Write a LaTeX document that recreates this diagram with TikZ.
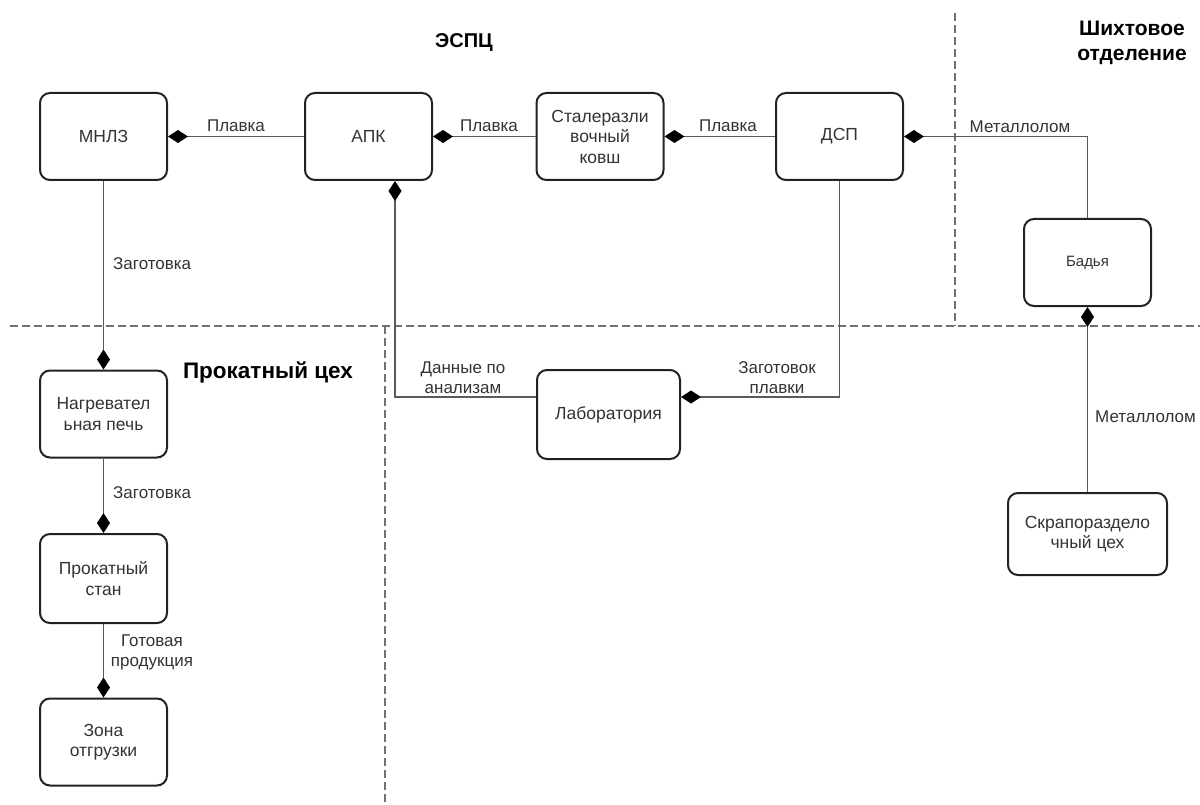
\documentclass[tikz,border=0pt]{standalone}
\usepackage{fontspec}
\setmainfont{Liberation Sans}
\usetikzlibrary{arrows.meta}

\definecolor{boxline}{HTML}{222222}
\definecolor{connline}{HTML}{5A5A5A}
\definecolor{txt}{HTML}{333333}
\definecolor{zone}{HTML}{707070}

\tikzset{
  unit/.style={draw=boxline, line width=2pt, rounded corners=10pt, fill=white,
    minimum width=127pt, minimum height=87pt, inner sep=0pt, align=center,
    text=txt, font=\fontsize{17.5}{20.5}\selectfont},
  conn/.style={draw=connline, line width=1.5pt,
    -{Diamond[length=20pt,width=13pt,fill=black,color=black]}},
  lbl/.style={text=txt, font=\fontsize{17}{20}\selectfont, align=center, inner sep=0pt},
  zonetitle/.style={font=\bfseries\fontsize{20}{25}\selectfont, align=center, inner sep=0pt},
  border/.style={draw=zone, line width=1.8pt, dash pattern=on 8pt off 4pt}
}

\begin{document}
\begin{tikzpicture}[x=1pt,y=-1pt]
\useasboundingbox (0,0) rectangle (1200,805);

% zone borders
\draw[border] (10,326) -- (1200,326);
\draw[border] (955,13) -- (955,326);
\draw[border] (385,326) -- (385,805);

% zone titles
\node[zonetitle] (tEspc) at (464,43) {ЭСПЦ};
\node[zonetitle, font=\bfseries\fontsize{21}{25}\selectfont] (tShiht) at (1132,43) {Шихтовое\\отделение};
\node[zonetitle, font=\bfseries\fontsize{22.5}{25}\selectfont] (tProkat) at (268,372) {Прокатный цех};

% units
\node[unit] (mnlz)  at (103.5,136.5) {МНЛЗ};
\node[unit] (apk)   at (368.5,136.5) {АПК};
\node[unit] (stal)  at (600,136.5)   {Сталеразли\\вочный\\ковш};
\node[unit] (dsp)   at (839.5,136.5) {ДСП};
\node[unit, font=\fontsize{15}{18}\selectfont] (badya) at (1087.5,262.5) {Бадья};
\node[unit] (nagrev) at (103.5,414)  {Нагревател\\ьная печь};
\node[unit, minimum height=89pt] (stan) at (103.5,578.5) {Прокатный\\стан};
\node[unit] (zona)  at (103.5,742)   {Зона\\отгрузки};
\node[unit, minimum width=143pt, minimum height=89pt] (lab) at (608.5,414.5) {Лаборатория};
\node[unit, minimum width=159pt, minimum height=82pt] (skrap) at (1087.5,534) {Скрапораздело\\чный цех};

% flows
\draw[conn] (apk.west) -- (mnlz.east);
\draw[conn] (stal.west) -- (apk.east);
\draw[conn] (dsp.west) -- (stal.east);
\draw[conn] (badya.north) |- (dsp.east);
\draw[conn] (skrap.north) -- (badya.south);
\draw[conn] (mnlz.south) -- (nagrev.north);
\draw[conn] (nagrev.south) -- (stan.north);
\draw[conn] (stan.south) -- (zona.north);
\draw[conn] ([yshift=17.5pt]lab.west) -| ([xshift=26.5pt]apk.south);
\draw[conn] (dsp.south) |- ([yshift=17.5pt]lab.east);

% flow labels
\node[lbl] (l1) at (236,126) {Плавка};
\node[lbl] (l2) at (489,126) {Плавка};
\node[lbl] (l3) at (728,126) {Плавка};
\node[lbl] (l4) at (1020,127) {Металлолом};
\node[lbl, anchor=west] (l5) at (1095,417) {Металлолом};
\node[lbl, anchor=west] (l6) at (113,264) {Заготовка};
\node[lbl, anchor=west] (l7) at (113,493) {Заготовка};
\node[lbl] (l8) at (152,652) {Готовая\\продукция};
\node[lbl] (l9) at (463,378) {Данные по\\анализам};
\node[lbl] (l10) at (777,378) {Заготовок\\плавки};
\end{tikzpicture}
\end{document}
